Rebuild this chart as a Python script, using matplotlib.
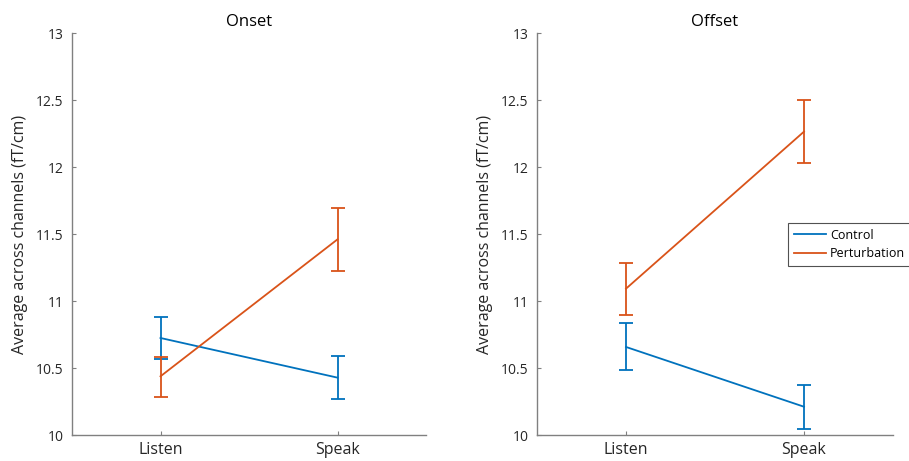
import matplotlib
matplotlib.use("Agg")
import matplotlib.pyplot as plt
from matplotlib.lines import Line2D
import numpy as np

plt.rcParams['font.family'] = ['Open Sans', 'DejaVu Sans']

conditions = ["Listen", "Speak"]
panels = ["Onset", "Offset"]
series_names = ["Control", "Perturbation"]

# Onset
onset_control = [10.724, 10.428]
onset_control_lo = [10.567, 10.266]
onset_control_hi = [10.883, 10.587]
onset_pert = [10.438, 11.460]
onset_pert_lo = [10.281, 11.224]
onset_pert_hi = [10.584, 11.694]

# Offset
offset_control = [10.657, 10.211]
offset_control_lo = [10.487, 10.047]
offset_control_hi = [10.836, 10.371]
offset_pert = [11.092, 12.264]
offset_pert_lo = [10.896, 12.032]
offset_pert_hi = [11.281, 12.500]

blue = "#0072BD"
orange = "#D95319"
axcol = "#808080"
txtcol = "#262626"

fig = plt.figure(figsize=(9.09, 4.61), dpi=100)
W, H = 909, 461
ax1 = fig.add_axes([72/W, 1-435/H, (426-72)/W, (435-33)/H])
ax2 = fig.add_axes([537/W, 1-435/H, (893-537)/W, (435-33)/H])

data = [
    (onset_control, onset_control_lo, onset_control_hi, onset_pert, onset_pert_lo, onset_pert_hi),
    (offset_control, offset_control_lo, offset_control_hi, offset_pert, offset_pert_lo, offset_pert_hi),
]
x = np.arange(1, len(conditions)+1)
for ax, title, (c, clo, chi, p, plo, phi) in zip([ax1, ax2], panels, data):
    c = np.array(c); p = np.array(p)
    ax.errorbar(x, c, yerr=[c-np.array(clo), np.array(chi)-c], color=blue, lw=1.3,
                capsize=5, capthick=1.3)
    ax.errorbar(x, p, yerr=[p-np.array(plo), np.array(phi)-p], color=orange, lw=1.3,
                capsize=5, capthick=1.3)
    ax.set_xlim(0.5, 2.5)
    ax.set_ylim(10, 13)
    ax.set_yticks([10, 10.5, 11, 11.5, 12, 12.5, 13])
    ax.set_yticklabels(["10", "10.5", "11", "11.5", "12", "12.5", "13"])
    ax.set_xticks(x)
    ax.set_xticklabels(conditions, fontsize=11.5, color=txtcol)
    for s in ["top", "right"]:
        ax.spines[s].set_visible(False)
    for s in ["left", "bottom"]:
        ax.spines[s].set_color(axcol)
        ax.spines[s].set_linewidth(1.0)
    ax.tick_params(direction="in", length=3, width=0.8, color=axcol)
    ax.tick_params(axis="y", labelsize=10, labelcolor=txtcol, pad=6)
    ax.tick_params(axis="x", pad=5)
    ax.set_title(title, fontsize=12, color="black", pad=5)
    ax.set_ylabel("Average across channels (fT/cm)", fontsize=11.5, color=txtcol, labelpad=6)

handles = [Line2D([], [], color=blue, lw=1.3), Line2D([], [], color=orange, lw=1.3)]
leg = ax2.legend(handles, series_names, loc="upper left", bbox_to_anchor=(788/W, 1-223/H),
                 bbox_transform=fig.transFigure,
                 frameon=True, fancybox=False, fontsize=9, handlelength=2.6,
                 handletextpad=0.3, borderpad=0.45, labelspacing=0.45, borderaxespad=0)
leg.get_frame().set_edgecolor("#262626")
leg.get_frame().set_linewidth(0.8)

fig.savefig("out.png", dpi=100)
